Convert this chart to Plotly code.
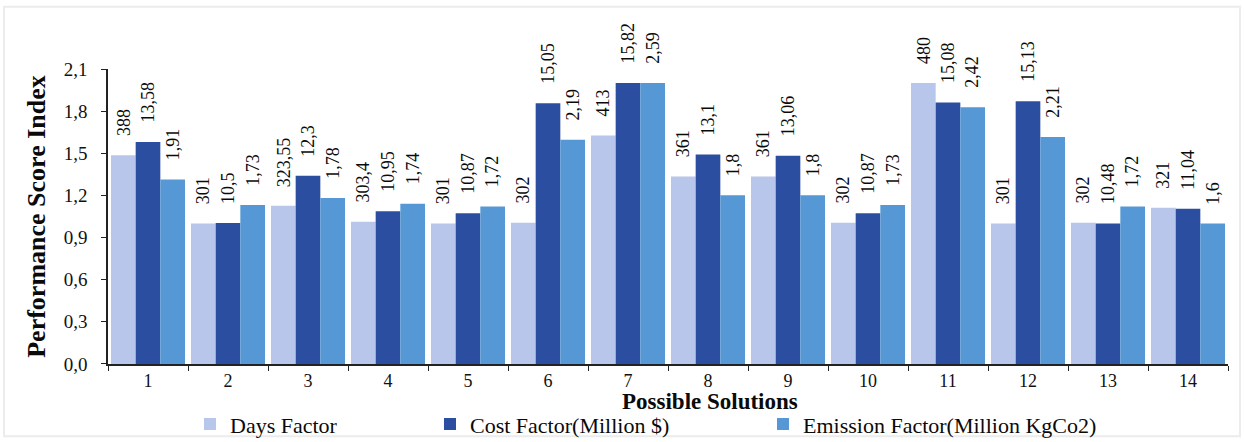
import plotly.graph_objects as go

# Possible solutions and the raw factor values for each one
solutions = [str(i) for i in range(1, 15)]
days = [388, 301, 323.55, 303.4, 301, 302, 413, 361, 361, 302, 480, 301, 302, 321]
cost = [13.58, 10.5, 12.3, 10.95, 10.87, 15.05, 15.82, 13.1, 13.06, 10.87, 15.08, 15.13, 10.48, 11.04]
emission = [1.91, 1.73, 1.78, 1.74, 1.72, 2.19, 2.59, 1.8, 1.8, 1.73, 2.42, 2.21, 1.72, 1.6]

series_names = ["Days Factor", "Cost Factor(Million $)", "Emission Factor(Million KgCo2)"]
colors = ["#b7c6ea", "#2c4ea0", "#5698d6"]

FONT = "Liberation Serif, Times New Roman, serif"

WIDTH, HEIGHT = 1244, 442
MARGIN = dict(l=108, r=16, t=69, b=75)
BARGAP = 0.075
PLOT_W = WIDTH - MARGIN["l"] - MARGIN["r"]
PLOT_H = HEIGHT - MARGIN["t"] - MARGIN["b"]


def score_index(values):
    """Scale a factor to the 1..2 performance score index (min -> 1, max -> 2)."""
    lo, hi = min(values), max(values)
    return [1 + (v - lo) / (hi - lo) for v in values]


def fmt(v):
    return f"{v:g}".replace(".", ",")


fig = go.Figure()
legends = ["legend", "legend2", "legend3"]
all_series = [days, cost, emission]
annotations = []

# width of one bar inside a group, in pixels
slot = PLOT_W / len(solutions)
bar_px = slot * (1 - BARGAP) / len(all_series)

for k, (name, vals, color, lg) in enumerate(zip(series_names, all_series, colors, legends)):
    idx = score_index(vals)
    fig.add_trace(go.Bar(
        x=solutions,
        y=idx,
        name=name,
        marker=dict(color=color, line=dict(width=0)),
        legend=lg,
        showlegend=True,
    ))
    # rotated value labels standing above each bar (x given as category position)
    for pos, (v, h) in enumerate(zip(vals, idx)):
        annotations.append(dict(
            x=pos, y=h, xref="x", yref="y",
            text=fmt(v),
            textangle=-90,
            xanchor="center", yanchor="bottom",
            xshift=(k - 1) * bar_px, yshift=17,
            showarrow=False,
            font=dict(family=FONT, size=18, color="#0a0a0a"),
        ))

annotations.append(dict(
    text="<b>Possible Solutions</b>",
    xref="paper", yref="paper",
    x=(710 - MARGIN["l"]) / PLOT_W, y=(367 - 405) / PLOT_H,
    xanchor="center", yanchor="middle",
    showarrow=False,
    font=dict(family=FONT, size=23, color="#0a0a0a"),
))

legend_font = dict(family=FONT, size=22, color="#0a0a0a")
legend_common = dict(orientation="h", font=legend_font, bgcolor="rgba(0,0,0,0)",
                     xanchor="left", yanchor="middle", yref="container", y=0.04,
                     itemwidth=30, visible=True)

fig.update_layout(
    width=WIDTH,
    height=HEIGHT,
    margin=MARGIN,
    paper_bgcolor="white",
    plot_bgcolor="white",
    separators=", ",
    barmode="group",
    bargap=BARGAP,
    bargroupgap=0,
    showlegend=True,
    font=dict(family=FONT, color="#0a0a0a"),
    legend=dict(x=(190 - MARGIN["l"]) / PLOT_W, **legend_common),
    legend2=dict(x=(430 - MARGIN["l"]) / PLOT_W, **legend_common),
    legend3=dict(x=(763 - MARGIN["l"]) / PLOT_W, **legend_common),
    xaxis=dict(
        type="category",
        range=[-0.5, len(solutions) - 0.5],
        showline=True,
        linecolor="#222222",
        linewidth=1.5,
        ticks="outside",
        ticklen=5,
        tickcolor="#222222",
        tickson="boundaries",
        tickfont=dict(family=FONT, size=18, color="#111111"),
        showgrid=False,
        zeroline=False,
    ),
    yaxis=dict(
        range=[0, 2.1],
        tickvals=[0, 0.3, 0.6, 0.9, 1.2, 1.5, 1.8, 2.1],
        tickformat=".1f",
        showline=True,
        linecolor="#222222",
        linewidth=1.5,
        ticks="outside",
        ticklen=5,
        tickcolor="#222222",
        ticklabelstandoff=10,
        tickfont=dict(family=FONT, size=19, color="#111111"),
        showgrid=False,
        zeroline=False,
        title=dict(text="<b>Performance Score Index</b>",
                   font=dict(family=FONT, size=26, color="#0a0a0a"),
                   standoff=11),
    ),
    annotations=annotations,
    shapes=[dict(
        type="rect", xref="paper", yref="paper",
        x0=(4 - MARGIN["l"]) / PLOT_W, x1=(1240 - MARGIN["l"]) / PLOT_W,
        y0=(367 - 440) / PLOT_H, y1=(367 - 6) / PLOT_H,
        line=dict(color="#ececec", width=2),
        layer="below",
    )],
)

fig.write_html("out.html")
